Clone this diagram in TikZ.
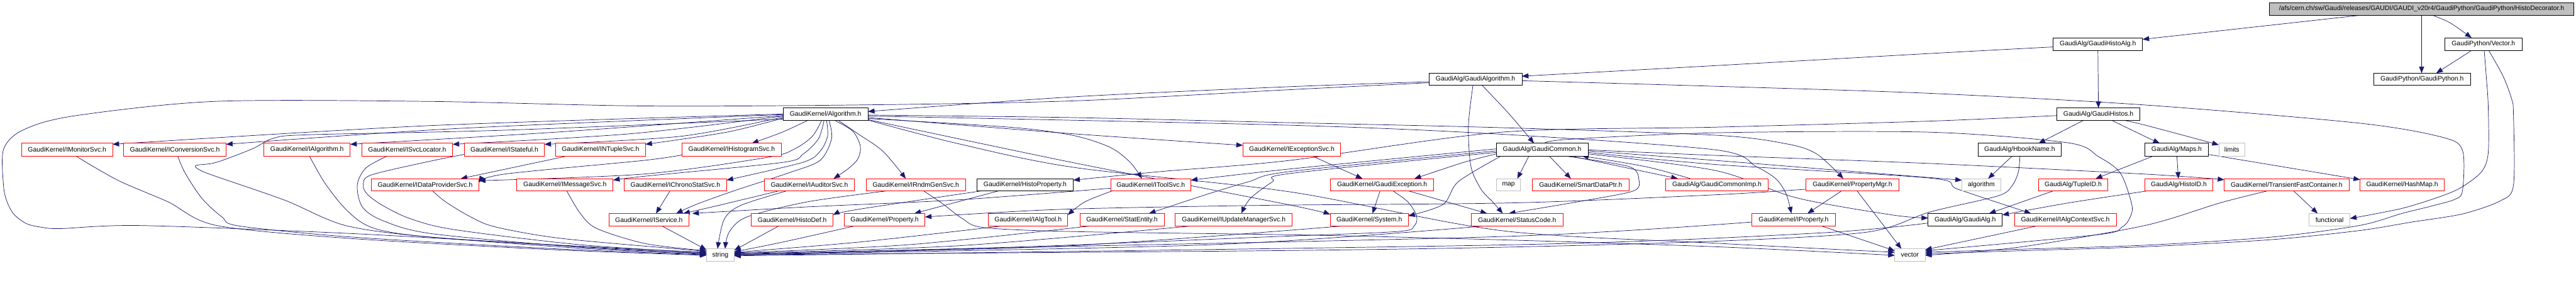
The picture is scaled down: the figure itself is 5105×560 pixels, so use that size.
\documentclass[tikz,border=0pt]{standalone}
\usepackage{fontspec}
\setmainfont{Liberation Sans}
\usetikzlibrary{arrows.meta,backgrounds}
\definecolor{edgec}{RGB}{25,25,112}
\definecolor{grayb}{RGB}{191,191,191}
\newcommand{\nd}[7]{\node[#2, minimum width={(#5-#3)*1pt}, minimum height={(#6-#4)*1pt}] (#1) at ({(#3+#5)/2},{(#4+#6)/2}) {#7};}
\begin{document}
\begin{tikzpicture}[x=1pt,y=-1pt, font=\fontsize{13}{15}\selectfont,
 base/.style={inner sep=0pt, outer sep=0pt, line width=1pt, fill=white, text=black},
 redbox/.style={base, draw=red},
 blackbox/.style={base, draw=black},
 graybox/.style={base, draw=grayb},
 rootbox/.style={base, draw=black, fill=grayb},
 e/.style={draw=edgec, line width=0.9pt, -{Triangle[length=13pt,width=10pt]}}
]
\useasboundingbox (0,0) rectangle (5105,560);
% row 0-3
\nd{root}{rootbox}{4497}{5}{5101}{30}{/afs/cern.ch/sw/Gaudi/releases/GAUDI/GAUDI\_v20r4/GaudiPython/GaudiPython/HistoDecorator.h}
\nd{ha}{blackbox}{4069}{75}{4246}{100}{GaudiAlg/GaudiHistoAlg.h}
\nd{vec}{blackbox}{4845}{75}{4998}{100}{GaudiPython/Vector.h}
\nd{ga}{blackbox}{2832}{145}{3016}{169}{GaudiAlg/GaudiAlgorithm.h}
\nd{gp}{blackbox}{4704}{145}{4896}{169}{GaudiPython/GaudiPython.h}
\nd{al}{blackbox}{1552}{214}{1720}{239}{GaudiKernel/Algorithm.h}
\nd{gh}{blackbox}{4076}{214}{4241}{239}{GaudiAlg/GaudiHistos.h}
% row 4
\nd{mon}{redbox}{43}{284}{223}{309}{GaudiKernel/IMonitorSvc.h}
\nd{conv}{redbox}{245}{284}{448}{309}{GaudiKernel/IConversionSvc.h}
\nd{ialg}{redbox}{523}{284}{694}{309}{GaudiKernel/IAlgorithm.h}
\nd{svcloc}{redbox}{717}{284}{897}{309}{GaudiKernel/ISvcLocator.h}
\nd{stat}{redbox}{920}{284}{1079}{309}{GaudiKernel/IStateful.h}
\nd{ntup}{redbox}{1101}{284}{1279}{309}{GaudiKernel/INTupleSvc.h}
\nd{hist}{redbox}{1352}{284}{1548}{309}{GaudiKernel/IHistogramSvc.h}
\nd{exc}{redbox}{2463}{284}{2657}{309}{GaudiKernel/IExceptionSvc.h}
\nd{gc}{blackbox}{2965}{284}{3147}{309}{GaudiAlg/GaudiCommon.h}
\nd{hb}{blackbox}{3920}{284}{4085}{309}{GaudiAlg/HbookName.h}
\nd{maps}{blackbox}{4251}{284}{4376}{309}{GaudiAlg/Maps.h}
\nd{lim}{graybox}{4397}{284}{4449}{309}{limits}
% row 5
\nd{dps}{redbox}{736}{354}{949}{378}{GaudiKernel/IDataProviderSvc.h}
\nd{msg}{redbox}{1024}{354}{1215}{378}{GaudiKernel/IMessageSvc.h}
\nd{chr}{redbox}{1237}{354}{1440}{378}{GaudiKernel/IChronoStatSvc.h}
\nd{aud}{redbox}{1515}{354}{1693}{378}{GaudiKernel/IAuditorSvc.h}
\nd{rndm}{redbox}{1717}{354}{1913}{378}{GaudiKernel/IRndmGenSvc.h}
\nd{hprop}{blackbox}{1936}{354}{2127}{378}{GaudiKernel/HistoProperty.h}
\nd{tool}{redbox}{2201}{354}{2360}{378}{GaudiKernel/IToolSvc.h}
\nd{gexc}{redbox}{2637}{354}{2841}{378}{GaudiKernel/GaudiException.h}
\nd{map}{graybox}{2966}{354}{3013}{378}{map}
\nd{sdp}{redbox}{3037}{354}{3228}{378}{GaudiKernel/SmartDataPtr.h}
\nd{gci}{redbox}{3301}{354}{3504}{378}{GaudiAlg/GaudiCommonImp.h}
\nd{pmgr}{redbox}{3579}{354}{3763}{378}{GaudiKernel/PropertyMgr.h}
\nd{algo}{graybox}{3888}{354}{3965}{378}{algorithm}
\nd{tid}{redbox}{4040}{354}{4177}{378}{GaudiAlg/TupleID.h}
\nd{hid}{redbox}{4251}{354}{4385}{378}{GaudiAlg/HistoID.h}
\nd{tfc}{redbox}{4408}{354}{4655}{378}{GaudiKernel/TransientFastContainer.h}
\nd{hash}{redbox}{4677}{354}{4844}{378}{GaudiKernel/HashMap.h}
% row 6
\nd{svc}{redbox}{1207}{423}{1365}{448}{GaudiKernel/IService.h}
\nd{hdef}{redbox}{1489}{423}{1651}{448}{GaudiKernel/HistoDef.h}
\nd{prop}{redbox}{1673}{423}{1833}{448}{GaudiKernel/Property.h}
\nd{atool}{redbox}{1959}{423}{2116}{448}{GaudiKernel/IAlgTool.h}
\nd{sent}{redbox}{2140}{423}{2307}{448}{GaudiKernel/StatEntity.h}
\nd{upd}{redbox}{2329}{423}{2561}{448}{GaudiKernel/IUpdateManagerSvc.h}
\nd{sys}{redbox}{2636}{423}{2791}{448}{GaudiKernel/System.h}
\nd{sc}{redbox}{2916}{423}{3097}{448}{GaudiKernel/StatusCode.h}
\nd{iprop}{redbox}{3472}{423}{3637}{448}{GaudiKernel/IProperty.h}
\nd{galg}{blackbox}{3821}{423}{3968}{448}{GaudiAlg/GaudiAlg.h}
\nd{actx}{redbox}{3992}{423}{4194}{448}{GaudiKernel/IAlgContextSvc.h}
\nd{func}{graybox}{4576}{423}{4657}{448}{functional}
% row 7
\nd{str}{graybox}{1400}{493}{1455}{518}{string}
\nd{vecs}{graybox}{3755}{493}{3815}{518}{vector}

\begin{pgfonlayer}{background}
% root
\draw[e] (root.south -| 4680,0) -- (ha.east |- 0,78);
\draw[e] (root.south -| 4799,0) -- (gp.north -| 4799,0);
\draw[e] plot[smooth] coordinates {(root.south -| 4820,0) (4855,45) (vec.north -| 4898,0)};
% vector.h
\draw[e] (vec.south -| 4898,0) -- (gp.north -| 4828,0);
\draw[e] plot[smooth] coordinates {(vec.south -| 4923,0) (4927,150) (4931,210) (4931,303) (4918,340) (4880,370) (4840,388) (4760,413) (func.east |- 0,433)};
\draw[e] plot[smooth] coordinates {(vec.south -| 4932,0) (4960,150) (4977,195) (4981,225) (4981,367) (4955,398) (4880,424) (4780,440) (4675,457) (4500,475) (4250,489) (4000,497) (vecs.east |- 0,503)};
% histoalg
\draw[e] (ha.south) -- (gh.north);
\draw[e] plot[smooth] coordinates {(ha.west |- 0,93) (3825,106) (3400,130) (ga.east |- 0,151)};
% gaudialgorithm
\draw[e] plot[smooth] coordinates {(ga.west |- 0,162) (2550,172) (2125,192) (al.east |- 0,221)};
\draw[e] plot[smooth] coordinates {(ga.west |- 0,164) (2550,178) (2125,200) (1700,208) (1275,210) (850,201) (425,201) (145,230) (45,258) (7,296) (7,368) (14,400) (28,425) (52,443) (80,450) (120,453) (280,447) (700,463) (1100,486) (str.west |- 0,503)};
\draw[e] plot[smooth] coordinates {(ga.south -| 2937,0) (2990,225) (gc.north -| 3040,0)};
\draw[e] plot[smooth] coordinates {(ga.south -| 2919,0) (2910,250) (2915,330) (2935,375) (2958,400) (sc.north -| 2978,0)};
\draw[e] plot[smooth] coordinates {(ga.east |- 0,160) (3400,171) (3825,185) (4250,208) (4675,244) (4840,272) (4880,298) (4880,378) (4865,395) (4820,408) (4760,423) (4675,447) (4500,470) (4250,486) (4000,494) (vecs.east |- 0,500)};
% gaudihistos
\draw[e] (gh.south -| 4128,0) -- (hb.north -| 4040,0);
\draw[e] plot[smooth] coordinates {(gh.south -| 4186,0) (4250,270) (maps.north -| 4280,0)};
\draw[e] plot[smooth] coordinates {(gh.south -| 4212,0) (4255,249) (lim.west |- 0,287)};
\draw[e] plot[smooth] coordinates {(gh.west |- 0,229) (3825,240) (3400,252) (2975,262) (2555,318) (2300,340) (hprop.east |- 0,357)};
% algorithm.h left
\draw[e] plot[smooth] coordinates {(al.west |- 0,226) (850,249) (mon.east |- 0,286)};
\draw[e] plot[smooth] coordinates {(al.west |- 0,227) (900,255) (conv.east |- 0,286)};
\draw[e] plot[smooth] coordinates {(al.west |- 0,229) (1100,262) (ialg.east |- 0,286)};
\draw[e] plot[smooth] coordinates {(al.west |- 0,230) (1250,265) (svcloc.east |- 0,286)};
\draw[e] plot[smooth] coordinates {(al.west |- 0,232) (1350,270) (stat.east |- 0,286)};
\draw[e] plot[smooth] coordinates {(al.west |- 0,234) (1440,262) (ntup.east |- 0,286)};
\draw[e] plot[smooth] coordinates {(al.west |- 0,236) (1000,258) (612,267) (542,274) (500,295) (428,322) (388,328) (398,338) (432,351) (565,397) (685,447) (855,470) (1150,488) (str.west |- 0,500)};
\draw[e] plot[smooth] coordinates {(al.south -| 1600,0) (1550,262) (hist.north -| 1490,0)};
\draw[e] plot[smooth] coordinates {(al.south -| 1628,0) (1610,270) (1575,295) (1520,312) (1275,345) (dps.east |- 0,358)};
\draw[e] plot[smooth] coordinates {(al.south -| 1633,0) (1622,275) (1592,305) (1550,322) (1280,349) (msg.east |- 0,357)};
\draw[e] plot[smooth] coordinates {(al.south -| 1638,0) (1640,270) (1625,300) (1590,322) (chr.east |- 0,357)};
\draw[e] plot[smooth] coordinates {(al.south -| 1643,0) (1648,275) (1625,318) (1565,342) (1455,378) (1380,405) (svc.north -| 1340,0)};
\draw[e] plot[smooth] coordinates {(al.south -| 1655,0) (1690,260) (1705,290) (1700,315) (1680,335) (aud.north -| 1652,0)};
\draw[e] plot[smooth] coordinates {(al.south -| 1662,0) (1700,265) (1750,300) (rndm.north -| 1795,0)};
% algorithm.h right
\draw[e] plot[smooth] coordinates {(al.east |- 0,233) (2125,265) (exc.west |- 0,288)};
\draw[e] plot[smooth] coordinates {(al.east |- 0,235) (2000,252) (2125,268) (2200,292) (2240,322) (tool.north -| 2263,0)};
\draw[e] plot[smooth] coordinates {(al.east |- 0,228) (2125,233) (2550,243) (2975,253) (3400,268) (3540,285) (3600,305) (pmgr.north -| 3653,0)};
\draw[e] plot[smooth] coordinates {(al.east |- 0,230) (2550,248) (2975,266) (3400,297) (3480,330) (3520,355) (3540,385) (iprop.north -| 3550,0)};
\draw[e] plot[smooth] coordinates {(al.east |- 0,237) (2125,322) (2550,405) (sys.west |- 0,425)};
\draw[e] plot[smooth] coordinates {(al.east |- 0,238) (1900,285) (2130,332) (2555,380) (2975,457) (3400,482) (vecs.west |- 0,500)};
% row 4 to string etc.
\draw[e] plot[smooth] coordinates {(mon.south -| 150,0) (233,357) (333,400) (430,447) (700,473) (1100,495) (str.west |- 0,506)};
\draw[e] plot[smooth] coordinates {(conv.south -| 352,0) (367,343) (400,393) (440,430) (475,448) (700,470) (1100,493) (str.west |- 0,505)};
\draw[e] plot[smooth] coordinates {(ialg.south -| 613,0) (642,360) (678,407) (715,440) (758,457) (855,470) (1150,492) (str.west |- 0,504)};
\draw[e] plot[smooth] coordinates {(svcloc.south -| 768,0) (725,333) (708,367) (718,410) (758,437) (855,463) (1150,490) (str.west |- 0,502)};
\draw[e] plot[smooth] coordinates {(stat.west |- 0,306) (850,320) (735,347) (720,367) (728,385) (758,407) (812,433) (900,455) (1150,485) (str.west |- 0,501)};
\draw[e] (ntup.south -| 1125,0) -- (dps.north -| 913,0);
\draw[e] plot[smooth] coordinates {(hist.west |- 0,307) (1275,318) (1000,345) (dps.east |- 0,362)};
\draw[e] (exc.south -| 2600,0) -- (gexc.north -| 2700,0);
% gaudicommon
\draw[e] (gc.south -| 3030,0) -- (map.north -| 3007,0);
\draw[e] (gc.south -| 3070,0) -- (sdp.north -| 3113,0);
\draw[e] (gc.south -| 3112,0) -- (gci.north -| 3325,0);
\draw[e] plot[smooth] coordinates {(gci.north -| 3350,0) (3260,330) (gc.south -| 3135,0)};
\draw[e] plot[smooth] coordinates {(gc.south -| 3100,0) (3228,330) (3248,357) (3238,378) (3155,395) (sc.north -| 2990,0)};
\draw[e] plot[smooth] coordinates {(gc.west |- 0,305) (2900,322) (gexc.north -| 2803,0)};
\draw[e] plot[smooth] coordinates {(gc.east |- 0,299) (3400,318) (3700,342) (algo.west |- 0,357)};
\draw[e] plot[smooth] coordinates {(gc.east |- 0,302) (3400,326) (3825,353) (3880,375) (actx.north -| 4025,0)};
\draw[e] plot[smooth] coordinates {(gc.east |- 0,297) (3400,308) (3825,324) (4250,345) (tfc.west |- 0,356)};
\draw[e] plot[smooth] coordinates {(gc.east |- 0,305) (3400,338) (3560,392) (3750,426) (galg.west |- 0,432)};
\draw[e] plot[smooth] coordinates {(gc.north -| 3060,0) (3110,276) (3405,263) (3825,262) (4098,283) (4158,310) (4202,343) (4225,407) (4220,433) (4205,450) (4158,465) (vecs.east |- 0,497)};
\draw[e] plot[smooth] coordinates {(gc.west |- 0,295) (2555,335) (tool.east |- 0,357)};
\draw[e] plot[smooth] coordinates {(gc.west |- 0,299) (2555,340) (2475,360) (2392,385) (sent.north -| 2277,0)};
\draw[e] plot[smooth] coordinates {(gc.west |- 0,302) (2555,344) (2522,360) (2478,393) (upd.north -| 2460,0)};
\draw[e] plot[smooth] coordinates {(gc.south -| 2975,0) (2890,360) (2860,405) (sys.east |- 0,428)};
% others
\draw[e] plot[smooth] coordinates {(pmgr.west |- 0,375) (3400,386) (3000,402) (2500,407) (2100,415) (prop.east |- 0,430)};
\draw[e] (hprop.south -| 1980,0) -- (prop.north -| 1812,0);
\draw[e] plot[smooth] coordinates {(hprop.south -| 1947,0) (1700,415) (hdef.east |- 0,426)};
\draw[e] plot[smooth] coordinates {(tool.south -| 2205,0) (2150,400) (atool.east |- 0,426)};
\draw[e] plot[smooth] coordinates {(tool.west |- 0,373) (1900,396) (1600,410) (svc.north -| 1372,0)};
\draw[e] (chr.south -| 1328,0) -- (svc.north -| 1300,0);
\draw[e] plot[smooth] coordinates {(aud.south -| 1545,0) (1420,408) (svc.north -| 1354,0)};
\draw[e] plot[smooth] coordinates {(aud.south -| 1560,0) (1468,407) (1435,435) (str.north -| 1422,0)};
\draw[e] plot[smooth] coordinates {(rndm.south -| 1760,0) (1600,400) (1480,430) (1445,460) (str.north -| 1437,0)};
\draw[e] plot[smooth] coordinates {(rndm.south -| 1830,0) (1867,403) (1907,433) (1950,451) (2130,459) (2600,466) (3000,476) (3400,489) (vecs.west |- 0,506)};
\draw[e] (gexc.south -| 2735,0) -- (sys.north -| 2720,0);
\draw[e] (gexc.south -| 2790,0) -- (sc.north -| 2947,0);
\draw[e] plot[smooth] coordinates {(gexc.south -| 2760,0) (2790,400) (2807,427) (2803,447) (2767,459) (2500,470) (2000,490) (str.east |- 0,503)};
\draw[e] (pmgr.south -| 3650,0) -- (iprop.north -| 3582,0);
\draw[e] (pmgr.south -| 3680,0) -- (vecs.north -| 3768,0);
\draw[e] (iprop.south -| 3610,0) -- (vecs.west |- 0,497);
\draw[e] (hb.south -| 3988,0) -- (algo.north -| 3940,0);
\draw[e] plot[smooth] coordinates {(hb.south -| 4003,0) (4000,340) (3988,367) (3960,388) (3825,420) (3700,460) (3400,478) (2975,490) (2500,497) (str.east |- 0,505)};
\draw[e] (tid.south -| 4070,0) -- (galg.north -| 3942,0);
\draw[e] plot[smooth] coordinates {(hid.south -| 4258,0) (4100,402) (galg.east |- 0,426)};
\draw[e] (maps.south -| 4314,0) -- (hid.north -| 4317,0);
\draw[e] (maps.south -| 4268,0) -- (tid.north -| 4153,0);
\draw[e] (maps.east |- 0,306) -- (hash.west |- 0,356);
\draw[e] (tfc.south -| 4545,0) -- (func.north -| 4593,0);
\draw[e] plot[smooth] coordinates {(tfc.south -| 4495,0) (4400,402) (4250,447) (4000,490) (vecs.east |- 0,506)};
\draw[e] (actx.south -| 4036,0) -- (vecs.east |- 0,495);
\draw[e] plot[smooth] coordinates {(galg.west |- 0,442) (3600,462) (3000,485) (str.east |- 0,507)};
\draw[e] plot[smooth] coordinates {(iprop.west |- 0,440) (3000,468) (2000,491) (str.east |- 0,506)};
\draw[e] (svc.south -| 1312,0) -- (str.west |- 0,495);
\draw[e] (hdef.south -| 1543,0) -- (str.east |- 0,496);
\draw[e] plot[smooth] coordinates {(prop.south -| 1693,0) (1550,480) (str.east |- 0,499)};
\draw[e] plot[smooth] coordinates {(atool.south -| 1985,0) (1700,480) (str.east |- 0,500)};
\draw[e] plot[smooth] coordinates {(sent.south -| 2160,0) (1800,485) (str.east |- 0,501)};
\draw[e] plot[smooth] coordinates {(upd.south -| 2360,0) (1900,487) (str.east |- 0,502)};
\draw[e] plot[smooth] coordinates {(sys.south -| 2660,0) (2100,488) (str.east |- 0,504)};
\draw[e] plot[smooth] coordinates {(sc.south -| 2940,0) (2400,485) (str.east |- 0,505)};
\draw[e] plot[smooth] coordinates {(dps.south -| 857,0) (883,400) (933,430) (983,450) (1117,473) (str.west |- 0,498)};
\draw[e] plot[smooth] coordinates {(msg.south -| 1123,0) (1150,423) (1183,453) (1280,483) (str.west |- 0,497)};
\end{pgfonlayer}
\end{tikzpicture}
\end{document}
